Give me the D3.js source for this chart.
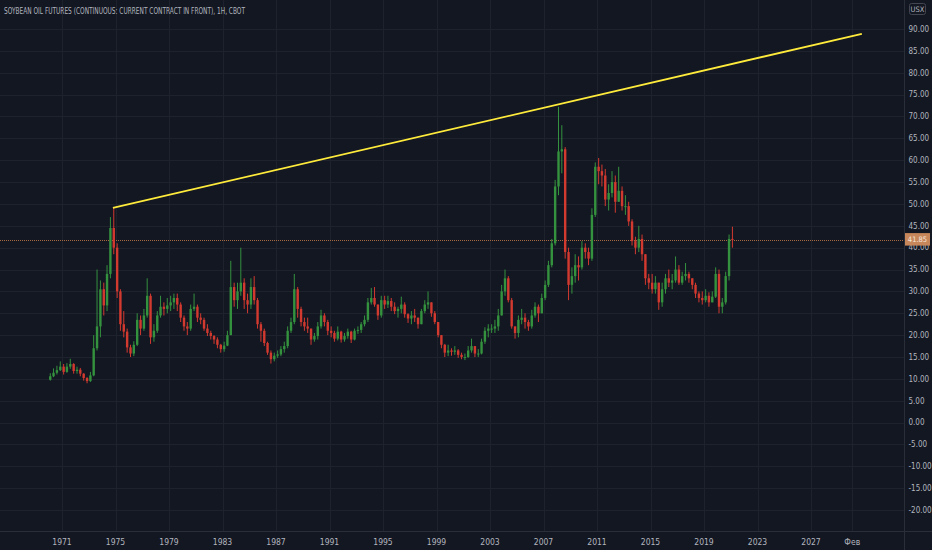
<!DOCTYPE html>
<html>
<head>
<meta charset="utf-8">
<script src="https://cdn.jsdelivr.net/npm/d3@7"></script>
<style>
  body { margin: 0; background: #131722; }
  svg { display: block; }
  text { font-family: "Liberation Sans Narrow", "DejaVu Sans Condensed", "Roboto", sans-serif; fill: #b2b5be; }
</style>
</head>
<body>
<div id="chart"></div>
<script>
var svgWidth = 932;
var svgHeight = 550;

// price axis / time axis separators
var plotRight = 904;
var plotBottom = 531;

// quarterly candles, first one is Q1 1970
var startYear = 1970;
var firstOpen = 9.8;

var closes = [
  10.6, 11.4, 12.0, 12.8,
  11.6, 12.8, 13.4, 11.8,
  12.1, 11.2, 10.2, 9.5,
  10.8, 17.0, 22.0, 30.5,
  26.8, 34.0, 44.5, 40.0,
  30.0, 22.5, 20.8, 17.2,
  15.8, 17.8, 23.5, 21.5,
  24.5, 29.0, 19.5, 21.0,
  24.5, 26.5, 26.0, 26.8,
  27.5, 28.5, 27.0, 24.0,
  22.0, 21.5, 26.0, 26.5,
  24.0, 23.5, 21.5, 20.5,
  19.8, 19.0, 17.8, 16.8,
  17.6, 20.0, 31.0, 28.0,
  30.0, 32.0, 28.0, 27.0,
  31.0, 28.0, 22.5, 21.0,
  18.2, 16.0, 14.5, 15.3,
  15.6, 16.8, 17.5, 21.0,
  23.0, 30.5, 26.0, 23.0,
  22.0, 21.5, 19.0, 19.8,
  22.0, 24.5, 23.0, 21.0,
  20.5, 19.2, 20.8, 19.0,
  19.8, 20.8, 19.0, 21.0,
  21.2, 22.5, 23.5, 27.5,
  28.5, 27.0, 24.5, 28.0,
  27.0, 27.8, 26.5, 25.5,
  26.0, 27.0, 24.8, 23.8,
  24.5, 24.0, 22.5, 25.5,
  27.0, 27.5, 25.0, 23.0,
  20.0, 17.8, 16.0, 16.5,
  16.2, 16.5, 15.5, 15.0,
  15.0, 16.5, 17.5, 15.8,
  15.8, 18.5, 21.0, 21.5,
  21.5, 22.0, 24.5, 30.0,
  33.0, 28.0, 22.0, 20.5,
  23.5, 24.0, 23.0, 22.0,
  24.5, 26.5, 25.0, 28.5,
  31.5, 36.0, 41.0, 54.0,
  62.0, 62.5, 39.0, 31.5,
  33.5, 36.0, 35.5, 40.0,
  39.0, 37.5, 47.5, 58.5,
  57.5, 56.5, 51.0, 52.5,
  55.0, 50.5, 53.0, 49.5,
  49.5, 46.0, 41.5, 40.0,
  42.0, 38.5, 33.0, 32.0,
  30.5, 32.0, 27.5, 30.5,
  33.0, 32.0, 32.5, 35.0,
  32.0, 33.5, 34.0, 33.0,
  31.5, 29.5, 28.5, 28.0,
  29.0, 27.5, 28.8, 34.0,
  26.5, 27.5, 33.5, 42.0,
  41.85
];

var highs = [
  11.3, 12.4, 13.0, 14.0,
  13.4, 13.6, 14.6, 13.6,
  12.8, 12.5, 11.3, 10.4,
  11.6, 20.0, 35.0, 32.5,
  32.0, 36.0, 47.0, 49.1,
  41.0, 30.5, 25.5, 21.5,
  17.8, 18.6, 25.0, 24.5,
  26.0, 33.0, 29.5, 22.5,
  25.5, 29.0, 27.5, 28.5,
  29.0, 29.5, 29.5, 27.5,
  24.5, 23.0, 27.0, 29.5,
  27.0, 25.0, 24.0, 22.5,
  21.0, 20.0, 19.5, 18.0,
  18.5, 21.0, 37.0, 32.0,
  32.0, 40.0, 33.0, 29.5,
  33.0, 33.5, 28.5, 23.0,
  21.5, 18.5, 16.5, 16.0,
  16.5, 17.5, 18.5, 22.0,
  24.0, 34.0, 31.0, 26.5,
  24.0, 24.0, 21.5, 20.5,
  23.0, 25.8, 25.0, 23.5,
  22.0, 21.0, 22.0, 21.0,
  20.5, 21.5, 21.0, 21.5,
  22.0, 23.0, 24.5, 28.5,
  30.8, 31.0, 27.0, 29.0,
  29.0, 29.0, 28.5, 27.5,
  26.5, 28.8, 27.5, 25.0,
  25.5, 26.0, 24.0, 26.0,
  28.0, 30.0, 27.5, 25.5,
  23.0, 20.0, 18.0, 17.8,
  17.0, 17.5, 16.8, 16.0,
  15.8, 17.5, 19.2, 17.5,
  16.8, 19.2, 21.8, 22.5,
  22.5, 23.5, 26.0, 31.5,
  35.0, 33.5, 28.5, 22.0,
  24.5, 26.0, 25.0, 23.5,
  25.8, 27.5, 27.0, 29.5,
  32.5, 37.0, 42.0, 55.5,
  72.2, 68.0, 63.0, 40.0,
  35.5, 38.5, 38.0, 41.5,
  41.0, 40.0, 49.0, 59.5,
  60.5, 59.0, 58.0, 54.5,
  57.5, 56.5, 58.5, 54.0,
  52.0, 50.5, 46.5, 42.5,
  45.0, 43.0, 38.5, 34.0,
  34.0, 33.5, 32.0, 32.0,
  34.0, 35.0, 34.0, 38.0,
  36.0, 34.5, 36.5, 34.5,
  33.0, 32.0, 30.0, 30.0,
  30.5, 29.8, 30.0, 35.5,
  35.0, 28.5, 34.5, 43.0,
  44.8
];

var lows = [
  9.6, 10.4, 11.0, 11.8,
  11.0, 11.4, 12.3, 11.2,
  11.2, 10.6, 9.6, 9.0,
  9.3, 10.6, 16.5, 19.5,
  24.5, 25.5, 33.0, 38.5,
  28.5, 21.0, 19.5, 16.0,
  15.0, 15.2, 17.5, 20.0,
  21.0, 24.0, 18.0, 18.5,
  20.5, 24.0, 24.5, 25.0,
  25.5, 26.0, 25.5, 23.0,
  21.0, 20.0, 21.0, 25.5,
  23.0, 22.5, 21.0, 19.8,
  19.0, 18.0, 17.0, 16.0,
  16.2, 17.5, 20.0, 26.5,
  26.0, 29.0, 26.0, 25.0,
  26.0, 27.0, 21.5, 18.5,
  17.5, 15.5, 13.5, 14.0,
  14.8, 15.2, 16.0, 17.0,
  20.5, 22.5, 24.0, 22.0,
  21.0, 20.5, 17.8, 18.5,
  19.0, 21.5, 22.0, 20.0,
  19.5, 18.5, 18.8, 18.3,
  18.5, 19.2, 18.2, 18.8,
  20.3, 20.5, 22.0, 23.0,
  27.0, 26.5, 23.5, 24.0,
  26.0, 26.2, 25.5, 24.8,
  24.0, 25.0, 24.0, 22.8,
  22.5, 23.0, 21.5, 22.5,
  25.0, 26.0, 24.2, 22.5,
  19.5, 17.0, 15.0, 15.2,
  15.3, 15.5, 14.8, 14.5,
  14.3, 14.8, 16.0, 15.0,
  15.0, 15.6, 18.0, 19.5,
  20.5, 20.5, 21.0, 24.5,
  29.0, 27.5, 21.5, 19.2,
  19.5, 22.5, 21.5, 21.0,
  21.5, 24.0, 23.0, 25.0,
  28.0, 31.0, 35.5, 40.5,
  52.0, 57.0, 37.5, 28.0,
  29.5, 32.0, 32.5, 35.0,
  37.5, 36.0, 37.0, 47.0,
  54.5, 54.0, 49.5, 48.5,
  51.5, 48.0, 50.5, 48.5,
  47.5, 45.0, 40.5, 38.5,
  39.0, 37.0, 31.5, 30.5,
  29.5, 29.5, 25.8, 26.5,
  29.5, 31.0, 30.5, 32.0,
  31.5, 31.5, 32.5, 32.0,
  30.5, 28.5, 27.5, 27.0,
  27.5, 26.5, 27.5, 28.5,
  25.0, 25.0, 27.0, 32.5,
  40.0
];

// axis ticks
var yearTicks = [1971, 1975, 1979, 1983, 1987, 1991, 1995, 1999, 2003, 2007, 2011, 2015, 2019, 2023, 2027];
var monthTick = { date: "2030-02-01", label: "Фев" };
var priceTicks = [90, 85, 80, 75, 70, 65, 60, 55, 50, 45, 40, 35, 30, 25, 20, 15, 10, 5, 0, -5, -10, -15, -20];

// yellow trend line drawn on the chart
var trendDates = ["1974-10-22", "2030-10-20"];
var trendPrices = [49.1, 88.9];

var lastPrice = 41.85;
var title = "SOYBEAN OIL FUTURES (CONTINUOUS: CURRENT CONTRACT IN FRONT), 1H, CBOT";

var svg = d3.select("#chart")
  .append("svg")
  .attr("width", svgWidth)
  .attr("height", svgHeight);

svg.append("rect")
  .attr("width", svgWidth)
  .attr("height", svgHeight)
  .attr("fill", "#131722");

var xScale = d3.scaleUtc()
  .domain([new Date(Date.UTC(1971, 0, 1)), new Date(Date.UTC(2027, 0, 1))])
  .range([62, 811]);

var yScale = d3.scaleLinear()
  .domain([-20, 90])
  .range([510.1, 29]);

// build candle rows, open = previous close
var candles = closes.map(function(c, i) {
  var year = startYear + Math.floor(i / 4);
  var month = (i % 4) * 3 + 1;
  return {
    date: new Date(Date.UTC(year, month, 15)),
    open: i === 0 ? firstOpen : closes[i - 1],
    high: highs[i],
    low: lows[i],
    close: c
  };
});

var tickDates = yearTicks.map(function(y) { return new Date(Date.UTC(y, 0, 1)); });
var febDate = new Date(monthTick.date + "T00:00:00Z");

// grid
var grid = svg.append("g").attr("class", "grid");

grid.selectAll("line.v")
  .data(tickDates.concat([febDate]))
  .enter()
  .append("line")
  .attr("class", "v")
  .attr("x1", d => Math.round(xScale(d)) + 0.5)
  .attr("x2", d => Math.round(xScale(d)) + 0.5)
  .attr("y1", 0)
  .attr("y2", plotBottom)
  .attr("stroke", "#1e222d");

grid.selectAll("line.h")
  .data(priceTicks)
  .enter()
  .append("line")
  .attr("class", "h")
  .attr("x1", 0)
  .attr("x2", plotRight)
  .attr("y1", d => Math.round(yScale(d)) + 0.5)
  .attr("y2", d => Math.round(yScale(d)) + 0.5)
  .attr("stroke", "#1e222d");

// last price line (dotted)
svg.append("line")
  .attr("x1", 0)
  .attr("x2", plotRight)
  .attr("y1", Math.round(yScale(lastPrice)) + 0.5)
  .attr("y2", Math.round(yScale(lastPrice)) + 0.5)
  .attr("stroke", "#a8693f")
  .attr("stroke-dasharray", "1,1")
  .attr("stroke-width", 1);

// candles
var bodyWidth = 2.4;
var up = "#34913e";
var down = "#d2392f";

var candleGroup = svg.append("g").attr("class", "candles");

candleGroup.selectAll("line")
  .data(candles)
  .enter()
  .append("line")
  .attr("x1", d => xScale(d.date))
  .attr("x2", d => xScale(d.date))
  .attr("y1", d => yScale(Math.max(d.high, d.open, d.close)))
  .attr("y2", d => yScale(Math.min(d.low, d.open, d.close)))
  .attr("stroke", d => d.close >= d.open ? up : down)
  .attr("stroke-width", 1);

candleGroup.selectAll("rect")
  .data(candles)
  .enter()
  .append("rect")
  .attr("x", d => xScale(d.date) - bodyWidth / 2)
  .attr("y", d => yScale(Math.max(d.open, d.close)))
  .attr("width", bodyWidth)
  .attr("height", d => Math.max(1, Math.abs(yScale(d.open) - yScale(d.close))))
  .attr("fill", d => d.close >= d.open ? up : down);

// trend line
var trendLine = d3.line()
  .x(d => xScale(new Date(d[0] + "T00:00:00Z")))
  .y(d => yScale(d[1]));

svg.append("path")
  .datum(trendDates.map(function(d, i) { return [d, trendPrices[i]]; }))
  .attr("d", trendLine)
  .attr("fill", "none")
  .attr("stroke", "#ffeb3b")
  .attr("stroke-width", 1.8);

// axis separators
svg.append("line")
  .attr("x1", plotRight + 0.5).attr("x2", plotRight + 0.5)
  .attr("y1", 0).attr("y2", svgHeight)
  .attr("stroke", "#2a2e39");

svg.append("line")
  .attr("x1", 0).attr("x2", svgWidth)
  .attr("y1", plotBottom + 0.5).attr("y2", plotBottom + 0.5)
  .attr("stroke", "#2a2e39");

// price axis labels
svg.append("g")
  .selectAll("text")
  .data(priceTicks)
  .enter()
  .append("text")
  .attr("x", 908.5)
  .attr("y", d => yScale(d))
  .attr("dy", "0.35em")
  .style("font-size", "8px")
  .text(d => d.toFixed(2));

// time axis labels
var timeLabels = svg.append("g");

timeLabels.selectAll("text")
  .data(tickDates)
  .enter()
  .append("text")
  .attr("x", d => xScale(d))
  .attr("y", 544.5)
  .attr("text-anchor", "middle")
  .style("font-size", "8.5px")
  .text(d => d.getUTCFullYear());

timeLabels.append("text")
  .attr("x", xScale(febDate))
  .attr("y", 544.5)
  .attr("text-anchor", "middle")
  .style("font-size", "8.5px")
  .text(monthTick.label);

// last price badge
var lastY = yScale(lastPrice);
svg.append("rect")
  .attr("x", plotRight + 1)
  .attr("y", lastY - 6.5)
  .attr("width", 25)
  .attr("height", 12.5)
  .attr("fill", "#c8875a");

svg.append("text")
  .attr("x", plotRight + 13.5)
  .attr("y", lastY - 0.5)
  .attr("dy", "0.35em")
  .attr("text-anchor", "middle")
  .style("font-size", "7.5px")
  .style("fill", "#f5e6da")
  .text(lastPrice.toFixed(2));

// currency box
svg.append("rect")
  .attr("x", 909.5)
  .attr("y", 3.5)
  .attr("width", 16)
  .attr("height", 11)
  .attr("rx", 2)
  .attr("fill", "#131722")
  .attr("stroke", "#434651");

svg.append("text")
  .attr("x", 917.5)
  .attr("y", 9)
  .attr("dy", "0.35em")
  .attr("text-anchor", "middle")
  .style("font-size", "7.5px")
  .text("USX");

// title
svg.append("text")
  .attr("x", 4)
  .attr("y", 13.5)
  .attr("textLength", 241)
  .attr("lengthAdjust", "spacingAndGlyphs")
  .style("font-size", "8.5px")
  .text(title);
</script>
</body>
</html>
